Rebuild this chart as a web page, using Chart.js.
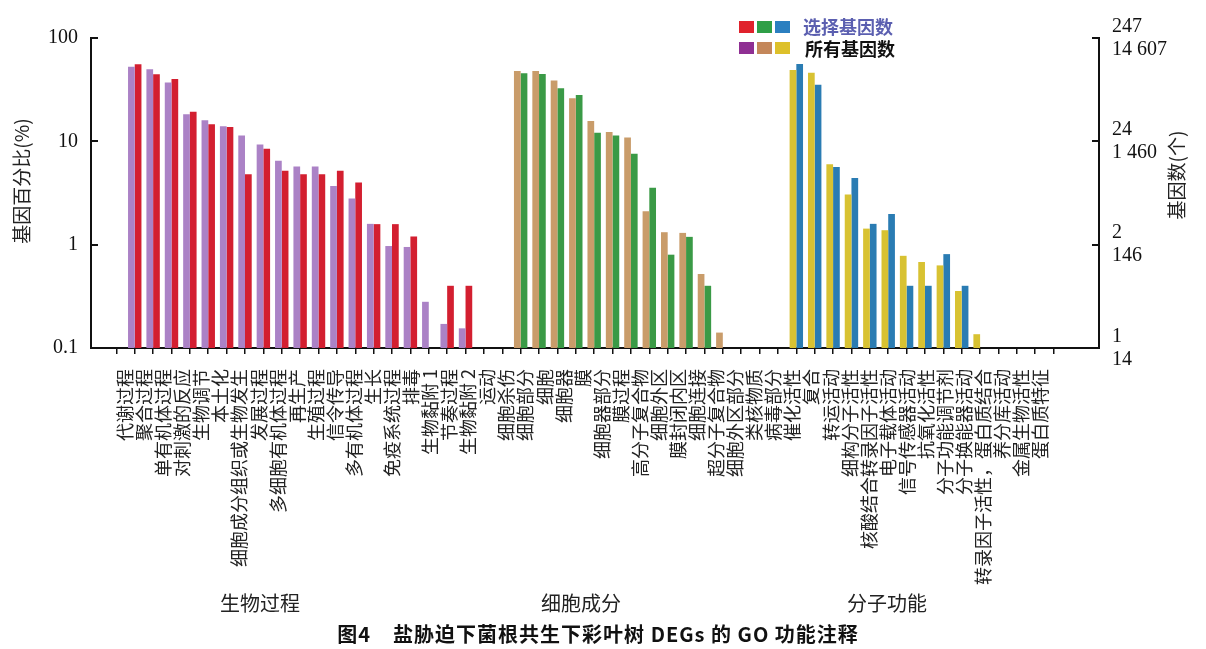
<!DOCTYPE html>
<html>
<head>
<meta charset="utf-8">
<script src="https://cdn.jsdelivr.net/npm/chart.js@4.4.1/dist/chart.umd.min.js"></script>
<style>
  html, body { margin: 0; padding: 0; background: #fff; }
  #caja { width: 1206px; height: 649px; }
</style>
</head>
<body>
<div id="caja"><canvas id="grafico" width="1206" height="649"></canvas></div>
<script>
// Etiquetas del eje X (procesos biológicos, componentes celulares, funciones moleculares)
const etiquetas = [
  '代谢过程', '聚合过程', '单有机体过程', '对刺激的反应', '生物调节', '本土化',
  '细胞成分组织或生物发生', '发展过程', '多细胞有机体过程', '再生产', '生殖过程',
  '信令传导', '多有机体过程', '生长', '免疫系统过程', '排毒', '生物黏附 1',
  '节奏过程', '生物黏附 2', '运动',
  '细胞杀伤', '细胞部分', '细胞', '细胞器', '膜', '细胞器部分', '膜过程',
  '高分子复合物', '细胞外区', '膜封闭内区', '细胞连接', '超分子复合物',
  '细胞外区部分', '类核物质', '病毒部分',
  '催化活性', '复合', '转运活动', '细构分子活性', '核酸结合转录因子活性',
  '电子载体活动', '信号传感器活动', '抗氧化活性', '分子功能调节剂',
  '分子换能器活动', '转录因子活性，蛋白质结合', '养分库活动', '金属生物活性',
  '蛋白质特征'
];

// Porcentaje de genes (%) — todos los genes / genes seleccionados
const bpTodos = [52.8, 49.9, 37.0, 18.3, 16.0, 14.0, 11.4, 9.3, 6.5, 5.7, 5.7, 3.7, 2.8, 1.59, 0.97, 0.95, 0.28, 0.171, 0.155];
const bpSel   = [55.6, 44.6, 40.2, 19.3, 14.6, 13.8, 4.8, 8.5, 5.2, 4.8, 4.8, 5.2, 4.0, 1.58, 1.58, 1.2, null, 0.40, 0.40];
const ccTodos = [48.0, 48.0, 38.7, 26.1, 15.7, 12.3, 10.9, 2.1, 1.32, 1.30, 0.52, 0.141];
const ccSel   = [45.6, 44.9, 32.6, 28.1, 12.1, 11.4, 7.6, 3.56, 0.80, 1.19, 0.40, null];
const mfTodos = [49.1, 46.2, 6.0, 3.05, 1.43, 1.38, 0.78, 0.68, 0.63, 0.356, 0.136];
const mfSel   = [56.1, 35.2, 5.65, 4.42, 1.59, 1.98, 0.40, 0.40, 0.81, 0.40, null];

// Marcas del eje Y y número de genes equivalente (eje derecho)
const marcasY = [0.1, 1, 10, 100];
const numSel = ['1', '2', '24', '247'];
const numTodos = ['14', '146', '1 460', '14 607'];

// Posición de cada grupo en la rejilla de barras
const grupos = [
  { todos: bpTodos, sel: bpSel, inicio: 0,  cTodos: '#ab82c6', cSel: '#d31f30' },
  { todos: ccTodos, sel: ccSel, inicio: 21, cTodos: '#c99c6a', cSel: '#3a9a46' },
  { todos: mfTodos, sel: mfSel, inicio: 36, cTodos: '#d8c232', cSel: '#2a7cb3' }
];

const X_MIN = -1.88, X_MAX = 52.97;
const PASO_ETIQ = 1.0375;   // separación entre etiquetas respecto a la rejilla
const fuenteCJK = '"Noto Sans CJK SC", "Noto Sans", sans-serif';
const fuenteNum = '"Liberation Serif", "DejaVu Serif", serif';

function serie(clave, color) {
  const datos = [], colores = [];
  grupos.forEach(g => {
    g[clave].forEach((v, i) => {
      datos.push({ x: g.inicio + i + 0.5, y: v });
      colores.push(g[color]);
    });
  });
  return { datos, colores };
}

const todos = serie('todos', 'cTodos');
const sel = serie('sel', 'cSel');

// sin relleno extra por las etiquetas del eje vertical
function ajustarY(ancho) {
  return s => { s.width = ancho; s.paddingTop = 0; s.paddingBottom = 0; };
}

// Títulos, leyenda y pie de figura
const textos = {
  id: 'textos',
  afterDraw(chart) {
    const ctx = chart.ctx;
    ctx.save();
    ctx.fillStyle = '#222';
    ctx.textAlign = 'center';
    ctx.textBaseline = 'middle';

    ctx.font = '19px ' + fuenteCJK;
    ctx.save();
    ctx.translate(22, 181);
    ctx.rotate(-Math.PI / 2);
    ctx.fillText('基因百分比(%)', 0, 0);
    ctx.restore();
    ctx.save();
    ctx.translate(1177, 175);
    ctx.rotate(-Math.PI / 2);
    ctx.fillText('基因数(个)', 0, 0);
    ctx.restore();

    ctx.font = '20px ' + fuenteCJK;
    ctx.fillText('生物过程', 260, 603);
    ctx.fillText('细胞成分', 581, 603);
    ctx.fillText('分子功能', 887, 603);

    ctx.fillStyle = '#111';
    ctx.font = 'bold 20px ' + fuenteCJK;
    ctx.letterSpacing = '1px';
    ctx.fillText('图4    盐胁迫下菌根共生下彩叶树 DEGs 的 GO 功能注释', 598, 634);
    ctx.letterSpacing = '0px';

    // leyenda
    const fila1 = ['#e0222c', '#2f9f47', '#2b7fc0'];
    const fila2 = ['#8f2f93', '#c4875a', '#ddc02a'];
    fila1.forEach((c, i) => { ctx.fillStyle = c; ctx.fillRect(739 + i * 18, 21, 15, 12); });
    fila2.forEach((c, i) => { ctx.fillStyle = c; ctx.fillRect(739 + i * 18, 42, 15, 12); });
    ctx.textAlign = 'left';
    ctx.font = 'bold 18px ' + fuenteCJK;
    ctx.fillStyle = '#5b5fb0';
    ctx.fillText('选择基因数', 803, 27);
    ctx.fillStyle = '#111';
    ctx.fillText('所有基因数', 805, 49);
    ctx.restore();
  }
};

new Chart(document.getElementById('grafico'), {
  type: 'bar',
  data: {
    datasets: [
      { label: '所有基因数', data: todos.datos, backgroundColor: todos.colores },
      { label: '选择基因数', data: sel.datos, backgroundColor: sel.colores }
    ]
  },
  options: {
    responsive: false,
    animation: false,
    devicePixelRatio: 1,
    categoryPercentage: 0.73,
    barPercentage: 1.0,
    layout: { padding: { top: 38, left: 0, right: 0, bottom: 0 } },
    plugins: { legend: { display: false }, tooltip: { enabled: false } },
    scales: {
      x: {
        type: 'linear', position: 'bottom', bounds: 'data', offset: false,
        min: X_MIN, max: X_MAX, weight: 0,
        afterBuildTicks: s => { s.ticks = Array.from({ length: 51 }, (_, i) => ({ value: i })); },
        ticks: { display: false },
        grid: { drawOnChartArea: false, drawTicks: true, tickLength: 6, color: '#111', lineWidth: 1.5 },
        border: { color: '#111', width: 2 },
        afterFit: s => { s.height = 12; }
      },
      x2: {
        type: 'linear', position: 'bottom', bounds: 'data', offset: false,
        min: X_MIN, max: X_MAX, weight: 1,
        afterBuildTicks: s => { s.ticks = etiquetas.map((_, i) => ({ value: -0.016 + PASO_ETIQ * i })); },
        ticks: {
          autoSkip: false, minRotation: 90, maxRotation: 90, padding: 1,
          color: '#222', font: { family: fuenteCJK, size: 18 },
          callback: (v, i) => etiquetas[i]
        },
        grid: { display: false },
        border: { display: false },
        afterFit: s => { s.height = 289; }
      },
      y: {
        type: 'logarithmic', position: 'left', min: 0.1, max: 100,
        afterBuildTicks: s => { s.ticks = marcasY.map(v => ({ value: v })); },
        ticks: { callback: v => String(v), color: '#111', padding: 20, font: { family: fuenteNum, size: 20 } },
        grid: { drawOnChartArea: false, tickLength: -7, color: '#111', lineWidth: 2 },
        border: { color: '#111', width: 2 },
        afterFit: ajustarY(91)
      },
      y2: {
        type: 'logarithmic', position: 'right', min: 0.1, max: 100,
        afterBuildTicks: s => { s.ticks = marcasY.map(v => ({ value: v })); },
        ticks: {
          callback: (v, i) => [numSel[i], numTodos[i]],
          color: '#111', padding: 20, font: { family: fuenteNum, size: 20, lineHeight: 1.15 }
        },
        grid: { drawOnChartArea: false, tickLength: -7, color: '#111', lineWidth: 2 },
        border: { color: '#111', width: 2 },
        afterFit: ajustarY(107)
      }
    }
  },
  plugins: [textos]
});
</script>
</body>
</html>
